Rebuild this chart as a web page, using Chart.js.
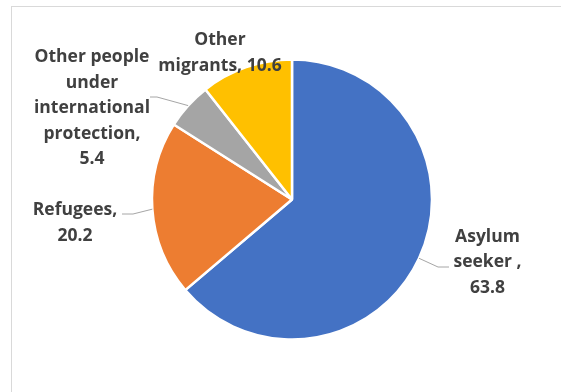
<!DOCTYPE html>
<html>
<head>
<meta charset="utf-8">
<script src="https://cdn.jsdelivr.net/npm/chart.js@4.4.1/dist/chart.umd.min.js"></script>
<style>
  html, body { margin: 0; padding: 0; background: #fff; }
  #wrap { width: 561px; height: 392px; }
</style>
</head>
<body>
<div id="wrap"><canvas id="pie" width="561" height="392"></canvas></div>
<script>
// population groups, share in %
const categories = ["Asylum seeker ", "Refugees", "Other people under international protection", "Other migrants"];
const shares = [63.8, 20.2, 5.4, 10.6];
const sliceColors = ["#4472C4", "#ED7D31", "#A5A5A5", "#FFC000"];

// where each data label sits, relative to the pie centre (px),
// plus the wrap width and optional leader line bend/end points
const labelSpots = [
  { dx: 195.5, dy: 42, wrap: 80, leader: [[146, 67.5], [157, 67.5]] },
  { dx: -217, dy: 15.5, wrap: 95, leader: [[-159, 14.5], [-170, 14.5]] },
  { dx: -200, dy: -137.5, wrap: 120, leader: [[-135, -102.5], [-142, -102.5]] },
  { dx: -72, dy: -154.5, wrap: 134, leader: null }
];

const FONT = "bold 17.5px 'Open Sans', sans-serif";
const LINE_H = 25.6;

function wrapText(ctx, text, maxW) {
  const words = text.split(" ").filter(w => w.length);
  const lines = [];
  let cur = "";
  words.forEach(w => {
    const test = cur ? cur + " " + w : w;
    if (cur && ctx.measureText(test).width > maxW) {
      lines.push(cur);
      cur = w;
    } else {
      cur = test;
    }
  });
  if (cur) lines.push(cur);
  return lines;
}

const frame = {
  id: "frame",
  beforeDraw(chart) {
    const ctx = chart.ctx;
    ctx.save();
    ctx.fillStyle = "#fff";
    ctx.fillRect(0, 0, chart.width, chart.height);
    ctx.strokeStyle = "#D9D9D9";
    ctx.lineWidth = 1;
    ctx.strokeRect(11.5, 6.5, chart.width + 20, chart.height + 20);
    ctx.restore();
  }
};

const sliceLabels = {
  id: "sliceLabels",
  afterDatasetsDraw(chart) {
    const ctx = chart.ctx;
    const arcs = chart.getDatasetMeta(0).data;
    ctx.save();
    ctx.font = FONT;
    arcs.forEach((arc, i) => {
      const { x, y, startAngle, endAngle, outerRadius } = arc.getProps(["x", "y", "startAngle", "endAngle", "outerRadius"], true);
      const spot = labelSpots[i];
      if (spot.leader) {
        const mid = (startAngle + endAngle) / 2;
        ctx.beginPath();
        ctx.moveTo(x + Math.cos(mid) * outerRadius, y + Math.sin(mid) * outerRadius);
        spot.leader.forEach(p => ctx.lineTo(x + p[0], y + p[1]));
        ctx.strokeStyle = "#A6A6A6";
        ctx.lineWidth = 1;
        ctx.stroke();
      }
      const text = categories[i] + ", " + shares[i];
      const lines = wrapText(ctx, text, spot.wrap);
      ctx.fillStyle = "#404040";
      ctx.textAlign = "center";
      ctx.textBaseline = "alphabetic";
      lines.forEach((ln, k) => {
        ctx.fillText(ln, x + spot.dx, y + spot.dy + k * LINE_H);
      });
    });
    ctx.restore();
  }
};

new Chart(document.getElementById("pie"), {
  type: "pie",
  data: {
    labels: categories,
    datasets: [{
      data: shares,
      backgroundColor: sliceColors,
      borderColor: "#ffffff",
      borderWidth: 2.5
    }]
  },
  options: {
    responsive: false,
    animation: false,
    radius: 140,
    layout: { padding: { left: 23, right: 0, top: 7, bottom: 0 } },
    plugins: {
      legend: { display: false },
      tooltip: { enabled: false }
    }
  },
  plugins: [frame, sliceLabels]
});
</script>
</body>
</html>
